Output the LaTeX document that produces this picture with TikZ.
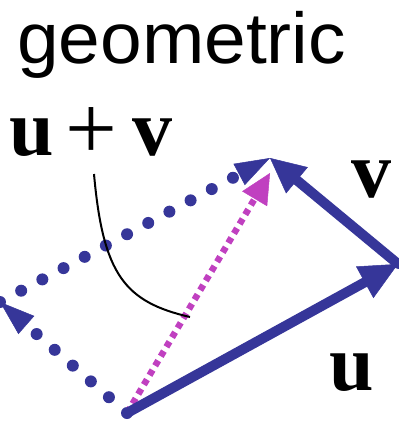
\documentclass[tikz,border=0pt]{standalone}
\usepackage{fontspec}
\setmainfont{Liberation Serif}
\newfontfamily\geofont{Liberation Sans}
\usetikzlibrary{arrows.meta}
\definecolor{vecblue}{RGB}{54,54,153}
\definecolor{summag}{RGB}{192,64,192}

\begin{document}
\begin{tikzpicture}[x=1pt,y=-1pt]
\tikzset{
  vec/.style={line width=10pt,color=vecblue,line cap=round},
  copyvec/.style={line width=12pt,color=vecblue,line cap=round,
    dash pattern=on 0pt off 24pt,
    -{Triangle[length=35pt,width=24pt,line width=0.5pt]}},
  sumvec/.style={line width=6.5pt,color=summag,dash pattern=on 6pt off 5pt,
    -{Triangle[length=30pt,width=29pt,line width=0.5pt]}},
  lbl/.style={inner sep=0pt,anchor=base west,font=\fontsize{80}{80}\selectfont}}
\useasboundingbox (0,0) rectangle (399,421);
% corners of the parallelogram
\coordinate (O) at (127,413);
\coordinate (U) at (398,264);
\coordinate (W) at (270,158);
\coordinate (L) at (0,302);
\coordinate (S) at (270,173); % magenta tip, just short of W
% ---------- title and labels ----------
\node[inner sep=0pt,anchor=base west] (geo) at (17,63)
  {\geofont\fontsize{72}{72}\selectfont\scalebox{1.04}[1]{geometric}};
\node[lbl] (sumlbl) at (9,155)
  {{\bfseries u}\kern12pt\raisebox{-4pt}{\scalebox{1.15}{+}}\kern15pt{\bfseries v}};
\node[lbl] (vlbl) at (351,197) {\bfseries v};
\node[lbl] (ulbl) at (329,390) {\bfseries u};
% ---------- dotted copies ----------
\draw[copyvec] (O) -- (L);
\draw[copyvec] (L) -- (W);
\draw[sumvec] (O) -- (S);
% ---------- u and v ----------
\draw[vec,-{Triangle[length=38pt,width=36pt,line width=0.5pt]}] (O) -- (U);
\draw[vec,-{Triangle[length=35pt,width=34pt,line width=0.5pt]}] (U) -- (W);
% leader from the label to the sum
\coordinate (lead) at (94,174);
\coordinate (foot) at (190,317);
\draw[line width=2pt] (lead) .. controls (103,275) and (125,302) .. (foot);
\end{tikzpicture}
\end{document}
